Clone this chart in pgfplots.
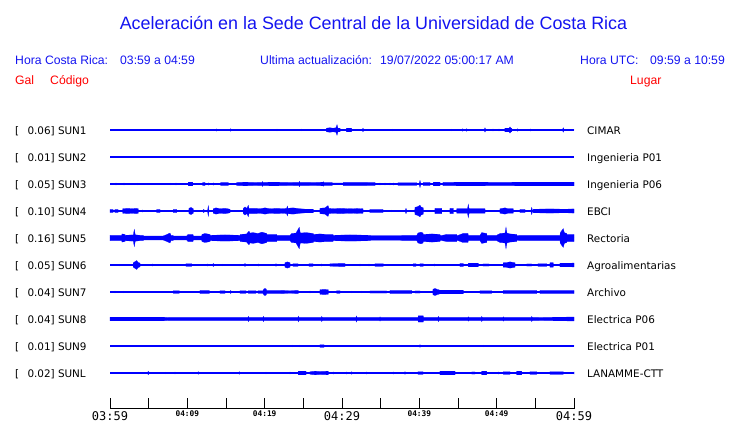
\documentclass[border=0pt]{standalone}
\usepackage{pgfplots}
\pgfplotsset{compat=1.18}
\usepackage{pgfplotstable}
\usepackage{fontspec}
\setmainfont{Liberation Sans}
\newfontfamily\dv{DejaVu Sans}
\newfontfamily\dvm{DejaVu Sans Mono}
\definecolor{tblue}{RGB}{0,0,255}
\definecolor{hblue}{RGB}{20,20,240}
\definecolor{tred}{RGB}{255,0,0}
\newcommand{\TL}[1]{\mbox{\dvm\fontsize{12}{12}\selectfont #1}}
\newcommand{\TS}[1]{\mbox{\dvm\bfseries\fontsize{7.8}{8}\selectfont #1}}

% envelopes: p = pixel column, a = half amplitude (px)
\pgfplotstableread[row sep=\\]{p a\\ 110 0\\ 215.7 0\\ 216.7 1.3\\ 217.7 0\\ 229.7 0\\ 230.7 1.5\\ 231.7 0\\ 276 0\\ 277 1\\ 278 0\\ 300.7 0\\ 301.7 1\\ 302.7 0\\ 326 0\\ 326.5 2\\ 330 2.5\\ 333 2\\ 336 2.5\\ 337 6\\ 338 2\\ 340 2\\ 340.5 0\\ 346 0\\ 346.5 2\\ 351.5 2\\ 352 0\\ 362 0\\ 363 2\\ 364 0\\ 391.7 0\\ 392.7 1\\ 393.7 0\\ 450.7 0\\ 451.7 1\\ 452.7 0\\ 462 0\\ 462.7 1.5\\ 463.4 0\\ 465.7 0\\ 466.7 1.5\\ 467.7 0\\ 484 0\\ 485 2.5\\ 486 0\\ 492 0\\ 493 1.2\\ 494 0\\ 498 0\\ 499 1.2\\ 500 0\\ 504.5 0\\ 505 2\\ 509 2\\ 510 3.5\\ 511 2\\ 511.7 2\\ 512.2 0\\ 516.7 0\\ 517.7 1.5\\ 518.7 0\\ 529.7 0\\ 530.7 1.2\\ 531.7 0\\ 562.3 0\\ 563.3 2.5\\ 564.3 0\\ 574 0\\}\tA

\pgfplotstableread[row sep=\\]{p a\\ 110 0\\ 115 0\\ 116 1.2\\ 117 0\\ 123 0\\ 124 1.2\\ 125 0\\ 136.3 0\\ 137.3 1\\ 138.3 0\\ 169.7 0\\ 170.7 1\\ 171.7 0\\ 175 0\\ 176 1.2\\ 177 0\\ 188 0\\ 188.3 2\\ 192.7 2\\ 193 0\\ 202.5 0\\ 202.7 1.8\\ 205 1.8\\ 205.3 0\\ 207.3 0\\ 208.3 1.3\\ 209.3 0\\ 212.3 0\\ 213.3 1.3\\ 214.3 0\\ 220.5 0\\ 220.7 1.8\\ 228.3 1.8\\ 228.5 0\\ 236.5 0\\ 236.7 1.8\\ 245 2\\ 255 1.8\\ 262 1.9\\ 262.3 2.8\\ 263 1.9\\ 275 2\\ 290 1.8\\ 299 1.9\\ 299.3 3\\ 300 1.9\\ 315 1.8\\ 323 2\\ 323.5 2.5\\ 324 1.8\\ 332 1.8\\ 332.5 1.0\\ 343 1.0\\ 343.5 1.9\\ 362 1.9\\ 370 1.8\\ 375 1.8\\ 375.5 0\\ 379 0\\ 380 1.2\\ 381 0\\ 384 0\\ 385 1.2\\ 386 0\\ 389 0\\ 390 1.2\\ 391 0\\ 392.3 0\\ 393.3 1.2\\ 394.3 0\\ 397.5 0\\ 398 1.5\\ 416.7 1.5\\ 417 0\\ 419 0\\ 420 4\\ 421 0\\ 423 0\\ 423.3 1.8\\ 430 1.8\\ 430.3 0\\ 433 0\\ 433.3 2\\ 440 2\\ 440.3 0\\ 442.7 0\\ 443 1.9\\ 470 2\\ 500 1.9\\ 530 2\\ 560 2\\ 574 2\\ 574 0\\}\tC

\pgfplotstableread[row sep=\\]{p a\\ 110 0\\ 110 1.8\\ 113 1.8\\ 113.5 0\\ 114.5 0\\ 115 1.8\\ 118 1.8\\ 118.5 0\\ 122.5 0\\ 122.7 2.5\\ 128 3\\ 132 2.5\\ 136 3\\ 138.3 2.5\\ 138.5 0\\ 141.7 0\\ 142.7 1.2\\ 143.7 0\\ 156.5 0\\ 156.7 1.8\\ 160 1.8\\ 160.3 0\\ 173 0\\ 173.3 1.8\\ 176.7 1.8\\ 177 0\\ 188.7 0\\ 189 3\\ 191 4\\ 193.3 2.5\\ 193.6 0\\ 203 0\\ 203.3 1.8\\ 204 1.8\\ 204.3 0\\ 207.5 0\\ 208.3 6\\ 209.1 0\\ 213 0\\ 213.3 2.5\\ 216 3.5\\ 220 2.5\\ 225 3\\ 230 2\\ 230.3 0\\ 243 0\\ 243.3 3\\ 245 4.5\\ 247 3\\ 248.3 6.5\\ 249 3\\ 255 3\\ 260 2.5\\ 265 3.5\\ 270 2.5\\ 277 3\\ 283 2.5\\ 286.7 3\\ 287.3 5.5\\ 288 3\\ 293 3.5\\ 300 2.5\\ 306 2\\ 313.3 2\\ 313.6 0\\ 319.7 0\\ 320 3\\ 325 3.5\\ 328 6\\ 329 3\\ 333 2.5\\ 340 3\\ 350 2.5\\ 357 2.8\\ 363 2.5\\ 363.3 0\\ 369 0\\ 370 1.8\\ 383 1.8\\ 383.3 0\\ 390.7 0\\ 391.7 1\\ 392.7 0\\ 405 0\\ 406 3\\ 407 0\\ 414.7 0\\ 415 4\\ 418 5\\ 420 6.5\\ 421 4.5\\ 423.3 3.5\\ 423.6 0\\ 434.7 0\\ 435 3\\ 441.7 3\\ 442 0\\ 449.7 0\\ 450 3\\ 453.3 3\\ 453.6 0\\ 456.5 0\\ 456.7 2.5\\ 462 2.5\\ 467.5 2.5\\ 468.3 7.5\\ 469.1 2.5\\ 475 2.5\\ 485 2.5\\ 485.3 0\\ 499.7 0\\ 500 2.5\\ 505 3.5\\ 508 2.5\\ 513.3 2.5\\ 513.6 0\\ 519.7 0\\ 520 1.8\\ 525 1.8\\ 525.3 0\\ 530.7 0\\ 531.7 4\\ 532.7 0\\ 533 0\\ 533.3 2\\ 550 2.3\\ 565 2\\ 574 2.3\\ 574 0\\}\tD

\pgfplotstableread[row sep=\\]{p a\\ 110 0\\ 110 3\\ 121.7 3\\ 122 4.5\\ 125 4\\ 125.3 3\\ 133.3 3.5\\ 134.3 9.5\\ 135.3 3.5\\ 140 3\\ 143.3 3\\ 143.6 2.2\\ 163 2.2\\ 165 3\\ 170 5.5\\ 171 3\\ 173 3\\ 173.3 2.2\\ 186.7 2.2\\ 188 4\\ 193 4\\ 193.3 2.2\\ 201.7 2.2\\ 202 4\\ 205 5\\ 210 4\\ 210.3 3\\ 225 3.5\\ 240 3\\ 240.3 4\\ 246.7 4.5\\ 248 6.5\\ 249 7.5\\ 250 5.5\\ 253 6\\ 258 5\\ 262 6.5\\ 266.7 5\\ 267 4\\ 276.7 4\\ 277 3\\ 290 3\\ 291.7 5\\ 296 5.5\\ 299.3 12\\ 300.3 5.5\\ 306 6\\ 313.3 5\\ 313.6 4\\ 320 4.5\\ 326 4\\ 333 4\\ 333.3 3\\ 350 3.5\\ 370 3\\ 370.3 2.5\\ 400 2.5\\ 403 3\\ 416.7 3\\ 418 5.5\\ 421 6.5\\ 423 5.5\\ 423.3 4\\ 432 4.5\\ 440 4\\ 440.3 2.5\\ 446.7 4\\ 456.7 4\\ 457 2.5\\ 463 5\\ 468 5\\ 468.3 3\\ 480 3\\ 481.7 6\\ 486.7 5\\ 487 3\\ 496.7 3\\ 500 5\\ 505 5.5\\ 506 12\\ 507 5.5\\ 510 4.5\\ 516.7 4\\ 517 2.5\\ 520 3\\ 540 3\\ 560 3\\ 560.3 6\\ 563.3 10.5\\ 564.3 6\\ 566.7 5\\ 567 4\\ 574 4\\ 574 0\\}\tE

\pgfplotstableread[row sep=\\]{p a\\ 110 0\\ 118.3 0\\ 119.3 1\\ 120.3 0\\ 133 0\\ 133.3 2.5\\ 136.7 5\\ 138 3\\ 140 2\\ 140.3 0\\ 151.7 0\\ 152.7 1.2\\ 153.7 0\\ 185.7 0\\ 186 1.5\\ 191.7 1.5\\ 192 0\\ 206.3 0\\ 207.3 1.2\\ 208.3 0\\ 212.3 0\\ 213.3 1.8\\ 214.3 0\\ 221.7 0\\ 222.7 1\\ 223.7 0\\ 238.3 0\\ 239.3 1\\ 240.3 0\\ 244 0\\ 245 1.8\\ 246 0\\ 257.3 0\\ 258.3 1.2\\ 259.3 0\\ 275 0\\ 276 1.5\\ 277 0\\ 284.7 0\\ 285 2.5\\ 287.3 3.5\\ 290 2.5\\ 290.3 0\\ 292.7 0\\ 293 1.5\\ 298 1.5\\ 298.3 0\\ 308.7 0\\ 309 1.5\\ 313 1.5\\ 313.3 0\\ 320.7 0\\ 321.7 1.2\\ 322.7 0\\ 329.7 0\\ 330 1.5\\ 345 1.8\\ 345.3 0\\ 359 0\\ 360 1.2\\ 361 0\\ 368 0\\ 369 1.2\\ 370 0\\ 374.7 0\\ 375 1.5\\ 383.3 1.5\\ 383.6 0\\ 413 0\\ 413.3 1.5\\ 416 1.5\\ 416.3 0\\ 419.7 0\\ 420 1.5\\ 423.3 1.5\\ 423.6 0\\ 433.3 0\\ 434.3 1.2\\ 435.3 0\\ 459.7 0\\ 460 1.8\\ 463.3 1.8\\ 463.6 0\\ 468 0\\ 468.3 2\\ 478.3 2\\ 478.6 0\\ 482.7 0\\ 483 1.2\\ 489 1.2\\ 489.3 0\\ 503 0\\ 503.3 2.5\\ 506 2.5\\ 510 3.5\\ 515 2.5\\ 515.3 0\\ 526.3 0\\ 526.7 1.2\\ 531.7 1.2\\ 532 0\\ 537.7 0\\ 538 1.5\\ 546.7 1.5\\ 547 0\\ 549.7 0\\ 550 2.5\\ 553.3 2.5\\ 553.6 0\\ 559.7 0\\ 560 2\\ 570 2\\ 573.3 2.2\\ 574 2.2\\ 574 0\\}\tF

\pgfplotstableread[row sep=\\]{p a\\ 110 0\\ 114 0\\ 115 1\\ 116 0\\ 122.3 0\\ 123.3 1\\ 124.3 0\\ 173 0\\ 173.3 1.5\\ 179.3 1.5\\ 179.6 0\\ 199.7 0\\ 200 1.8\\ 209.3 1.8\\ 209.6 0\\ 219.7 0\\ 220 1.5\\ 225 1.5\\ 225.3 0\\ 229.7 0\\ 230.7 1.8\\ 231.7 0\\ 239.7 0\\ 240 1.5\\ 246 1.5\\ 246.3 0\\ 248 0\\ 248.3 1.5\\ 256 1.5\\ 256.3 0\\ 257.7 0\\ 258 1.5\\ 263 1.5\\ 264 3.5\\ 265 4\\ 266 3.5\\ 266.7 1.8\\ 280 1.8\\ 290 1.5\\ 298.3 1.8\\ 298.6 0\\ 309 0\\ 310 1.2\\ 311 0\\ 319.7 0\\ 320 2.5\\ 324 3\\ 328.3 2.5\\ 328.6 0\\ 336.3 0\\ 336.7 1.5\\ 340 1.5\\ 340.3 0\\ 350.7 0\\ 351.7 1\\ 352.7 0\\ 360.7 0\\ 361.7 1\\ 362.7 0\\ 369.7 0\\ 370 1.2\\ 386.7 1.2\\ 387 0\\ 389.7 0\\ 390 1.8\\ 411.7 1.8\\ 412 0\\ 414.7 0\\ 415 1.2\\ 420 1.2\\ 420.3 0\\ 432.7 0\\ 433 3\\ 435 4\\ 437 3\\ 440 2\\ 463.3 2\\ 463.6 0\\ 465.7 0\\ 466.7 1\\ 467.7 0\\ 479.7 0\\ 480 1.5\\ 491.7 1.5\\ 492 0\\ 503 0\\ 503.3 1.8\\ 536.7 1.8\\ 537 0\\ 539.7 0\\ 540 1.8\\ 574 1.8\\ 574 0\\}\tG

\pgfplotstableread[row sep=\\]{p a\\ 110 0\\ 110 2\\ 160 2\\ 163.3 2\\ 170 1.7\\ 200 1.7\\ 248 1.7\\ 248.3 3\\ 249 1.7\\ 263 1.7\\ 263.3 3\\ 264 1.7\\ 298 1.7\\ 298.3 3.2\\ 299 1.7\\ 321.4 1.7\\ 321.7 3\\ 322.4 1.7\\ 356 1.7\\ 356.3 3.5\\ 357 1.7\\ 379.7 1.7\\ 380 2.5\\ 380.7 1.7\\ 418 1.7\\ 418.3 3.5\\ 423.3 3.5\\ 423.6 1.7\\ 438 1.7\\ 438.3 3\\ 439 1.7\\ 468 1.7\\ 468.3 2.5\\ 469 1.7\\ 481.4 1.7\\ 481.7 3\\ 482.4 1.7\\ 503 1.7\\ 503.3 2.5\\ 504 1.7\\ 531.4 1.7\\ 531.7 3\\ 532.4 1.7\\ 574 2.2\\ 574 0\\}\tH

\pgfplotstableread[row sep=\\]{p a\\ 110 0\\ 291.3 0\\ 292.3 1\\ 293.3 0\\ 298.3 0\\ 299.3 1\\ 300.3 0\\ 319.7 0\\ 320 1.5\\ 324 1.5\\ 324.3 0\\ 419 0\\ 420 1.5\\ 421 0\\ 482.3 0\\ 483.3 1\\ 484.3 0\\ 574 0\\}\tI

\pgfplotstableread[row sep=\\]{p a\\ 110 0\\ 147.3 0\\ 148.3 2\\ 149.3 0\\ 164.7 0\\ 165.7 1\\ 166.7 0\\ 174 0\\ 175 1.2\\ 176 0\\ 197.3 0\\ 198.3 1.5\\ 199.3 0\\ 238.3 0\\ 239.3 1.5\\ 240.3 0\\ 265 0\\ 266 1\\ 267 0\\ 289 0\\ 290 1.2\\ 291 0\\ 298 0\\ 298.3 2\\ 306 2\\ 306.3 0\\ 309.7 0\\ 310 1.5\\ 315 2\\ 320 1.8\\ 328.3 2\\ 328.6 0\\ 332.3 0\\ 333.3 1.2\\ 334.3 0\\ 345.7 0\\ 346.7 1.2\\ 347.7 0\\ 350.7 0\\ 351.7 1.5\\ 352.7 0\\ 365.7 0\\ 366.7 1.2\\ 367.7 0\\ 392.3 0\\ 393.3 1.2\\ 394.3 0\\ 404 0\\ 405 1.5\\ 406 0\\ 417.7 0\\ 418 1.5\\ 423 1.5\\ 423.3 0\\ 439.7 0\\ 440 2\\ 455 2\\ 455.3 0\\ 471.4 0\\ 471.7 1.2\\ 475 1.2\\ 475.3 0\\ 481.4 0\\ 481.7 2\\ 486.7 2\\ 487 0\\ 497.3 0\\ 498.3 1.2\\ 499.3 0\\ 503 0\\ 503.3 1.5\\ 510 1.5\\ 510.3 0\\ 516.4 0\\ 516.7 2\\ 521.7 2\\ 522 0\\ 529.7 0\\ 530 1.5\\ 536.7 1.5\\ 537 0\\ 549.7 0\\ 550 1.5\\ 563.3 1.5\\ 563.6 0\\ 573 0\\ 574 1.2\\ 574 0\\}\tL

\newcommand{\trace}[2]{%
  \addplot[tblue, fill=tblue, line width=0.2pt, forget plot] table[x expr={(\thisrow{p}-110)*60/464}, y expr={#2+0.9*\thisrow{a}}] {#1};
  \addplot[tblue, fill=tblue, line width=0.2pt, forget plot] table[x expr={(\thisrow{p}-110)*60/464}, y expr={#2-0.9*\thisrow{a}}] {#1};
  \addplot[tblue, line width=1.2pt, forget plot] coordinates {(0,#2) (60,#2)};
}

\begin{document}
\begin{tikzpicture}
\useasboundingbox (0,0) rectangle (740pt,423pt);
\begin{axis}[
  at={(110pt,14pt)}, anchor=south west,
  scale only axis, width=464pt, height=409pt,
  xmin=0, xmax=60, ymin=14, ymax=423,
  axis x line=bottom, axis y line=none,
  axis line style={black, line width=1pt, -},
  xtick={0,5,...,60},
  xticklabels={\TL{03:59},,\TS{04:09},,\TS{04:19},,\TL{04:29},,\TS{04:39},,\TS{04:49},,\TL{04:59}},
  xtick align=inside,
  major tick length=11pt,
  tick style={black, line width=1pt},
  xticklabel style={anchor=north, inner sep=0pt, yshift=-2pt},
  clip=false,
]
\trace{\tA}{293}
\addplot[tblue, line width=1.2pt, forget plot] coordinates {(0,266) (60,266)};
\trace{\tC}{239}
\trace{\tD}{212}
\trace{\tE}{185}
\trace{\tF}{158}
\trace{\tG}{131}
\trace{\tH}{104}
\trace{\tI}{77}
\trace{\tL}{50}
\end{axis}

% header
\node[anchor=base, inner sep=0, text=hblue, font=\fontsize{17.9}{20}\selectfont] at (373.5pt,393pt) {Aceleración en la Sede Central de la Universidad de Costa Rica};
\begin{scope}[every node/.style={anchor=base west, inner sep=0, font=\fontsize{12.2}{14}\selectfont}]
\node[text=hblue] at (15pt,358pt) {Hora Costa Rica:};
\node[text=hblue] at (120pt,358pt) {03:59 a 04:59};
\node[text=hblue] at (260pt,358pt) {Ultima actualización:};
\node[text=hblue] at (380pt,358pt) {19/07/2022 05:00:17 AM};
\node[text=hblue] at (580pt,358pt) {Hora UTC:};
\node[text=hblue] at (650pt,358pt) {09:59 a 10:59};
\node[text=tred] at (15pt,338pt) {Gal};
\node[text=tred] at (50pt,338pt) {Código};
\node[text=tred] at (630pt,338pt) {Lugar};
\end{scope}

% station labels
\begin{scope}[every node/.style={anchor=base west, inner sep=0, font=\dv\fontsize{10.4}{12}\selectfont}]
\foreach \yy/\val/\code/\name in {288.7/0.06/SUN1/CIMAR, 261.7/0.01/SUN2/Ingenieria P01, 234.7/0.05/SUN3/Ingenieria P06, 207.7/0.10/SUN4/EBCI, 180.7/0.16/SUN5/Rectoria, 153.7/0.05/SUN6/Agroalimentarias, 126.7/0.04/SUN7/Archivo, 99.7/0.04/SUN8/Electrica P06, 72.7/0.01/SUN9/Electrica P01, 45.7/0.02/SUNL/LANAMME-CTT}{
  \node at (15pt,\yy pt) {[};
  \node at (27.3pt,\yy pt) {\val] \code};
  \node at (587pt,\yy pt) {\name};
}
\end{scope}
\end{tikzpicture}
\end{document}
